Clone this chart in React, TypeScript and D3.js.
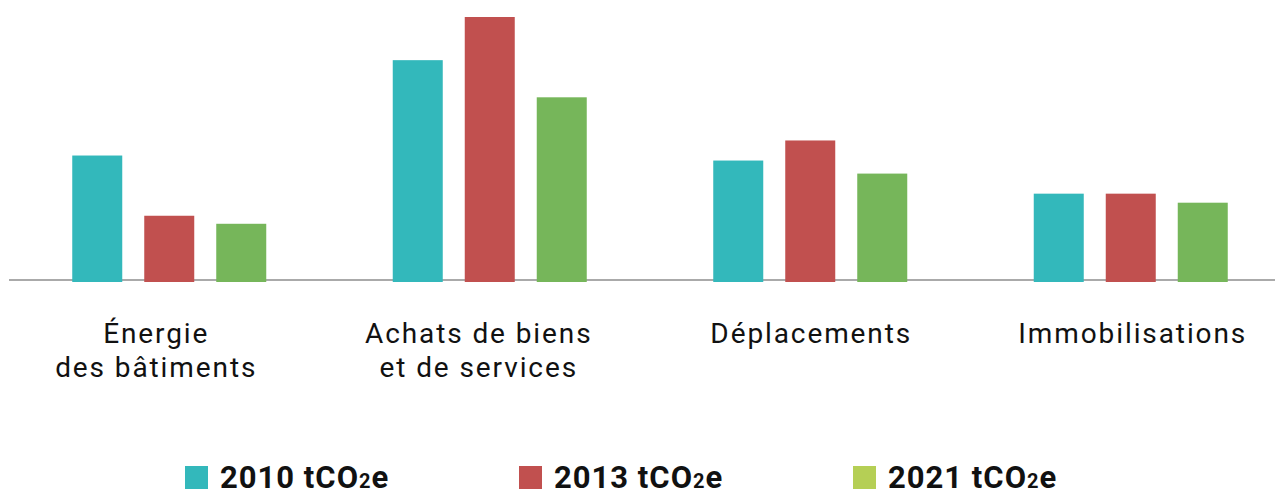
import React from "react";
import * as d3 from "d3";

const categories = [
  ["Énergie", "des bâtiments"],
  ["Achats de biens", "et de services"],
  ["Déplacements"],
  ["Immobilisations"],
];
const seriesNames = ["2010", "2013", "2021"];
const values2010 = [126, 221, 121, 88];
const values2013 = [66, 264, 141, 88];
const values2021 = [58, 184, 108, 79];
const barColors = ["#33b8bb", "#c1504f", "#76b65a"];
const legendColors = ["#33b8bb", "#c1504f", "#b5cf55"];

const W = 1275;
const H = 491;

export default function App() {
  const series = [values2010, values2013, values2021];
  const catKeys = categories.map((c) => c.join(" "));
  const x0 = d3.scaleBand<string>().domain(catKeys).range([9, 1291]);
  const x1 = d3.scaleBand<string>().domain(seriesNames).range([-97, 97]).paddingInner(22 / 72);
  const y = d3.scaleLinear().domain([0, 264]).range([282, 17]);
  const font = "Roboto, 'Noto Sans', sans-serif";
  const labelShift = [-13, -11, 1, 2];
  const legendScale = d3.scalePoint<string>().domain(seriesNames).range([185, 853]);

  return (
    <svg width={W} height={H} style={{ position: "absolute", left: 0, top: 0, background: "#fff" }}>
      <line x1={9} x2={1275} y1={280} y2={280} stroke="#aaaaaa" strokeWidth={2} />
      {catKeys.map((k, ci) => {
        const cx = (x0(k) as number) + x0.bandwidth() / 2;
        return (
          <g key={k}>
            {seriesNames.map((s, si) => (
              <rect
                key={s}
                x={cx + (x1(s) as number)}
                y={y(series[si][ci])}
                width={x1.bandwidth()}
                height={y(0) - y(series[si][ci])}
                fill={barColors[si]}
              />
            ))}
            {categories[ci].map((line, li) => (
              <text
                key={li}
                x={cx + labelShift[ci]}
                y={343 + li * 34}
                textAnchor="middle"
                fontFamily={font}
                fontSize={28}
                letterSpacing={1.9}
                fill="#111"
              >
                {line}
              </text>
            ))}
          </g>
        );
      })}
      {seriesNames.map((s, si) => {
        const lx = legendScale(s) as number;
        return (
          <g key={s}>
            <rect x={lx} y={466} width={23} height={23} fill={legendColors[si]} />
            <text x={lx + 35} y={488} fontFamily={font} fontWeight="bold" fontSize={31} letterSpacing={1} fill="#111">
              {s} tCO<tspan fontSize={20}>2</tspan>e
            </text>
          </g>
        );
      })}
    </svg>
  );
}
